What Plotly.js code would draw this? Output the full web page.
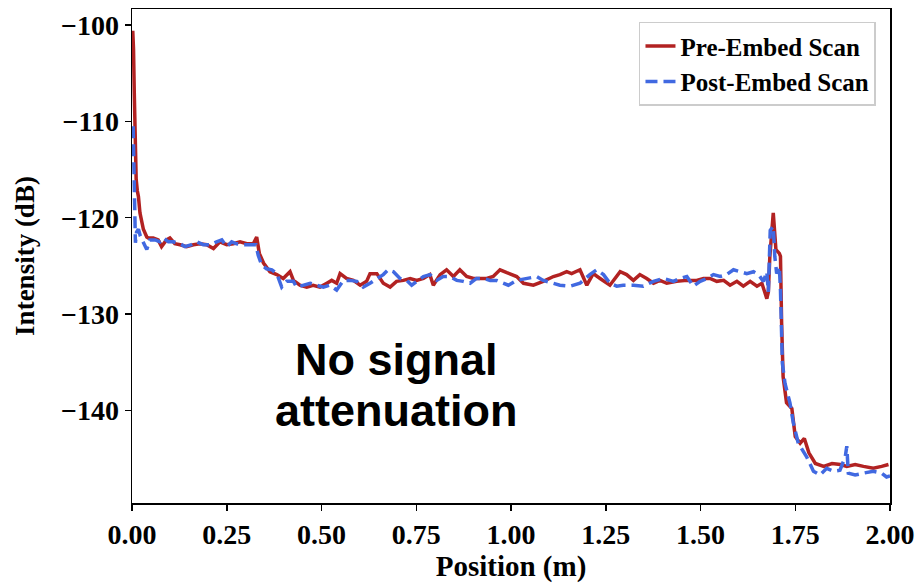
<!DOCTYPE html>
<html>
<head>
<meta charset="utf-8">
<script src="https://cdn.plot.ly/plotly-3.0.1.min.js"></script>
<style>html,body{margin:0;padding:0;background:#fff;}#chart{width:920px;height:584px;}</style>
</head>
<body>
<div id="chart"></div>
<script>
// Pre-Embed Scan (position in m, intensity in dB)
const preX = [0.002,0.004,0.006,0.008,0.011,0.014,0.017,0.021,0.030,0.039,0.043,0.056,0.069,0.078,0.091,0.100,0.113,0.127,0.144,0.162,0.179,0.197,0.215,0.232,0.250,0.267,0.285,0.303,0.320,0.329,0.336,0.347,0.364,0.382,0.399,0.417,0.426,0.443,0.461,0.478,0.496,0.514,0.527,0.540,0.549,0.566,0.584,0.602,0.619,0.628,0.646,0.663,0.681,0.698,0.716,0.734,0.751,0.769,0.786,0.795,0.813,0.830,0.848,0.865,0.883,0.901,0.918,0.936,0.953,0.971,0.989,1.015,1.033,1.059,1.085,1.112,1.129,1.147,1.160,1.182,1.200,1.217,1.235,1.261,1.288,1.305,1.323,1.340,1.358,1.376,1.393,1.411,1.437,1.464,1.490,1.508,1.525,1.543,1.561,1.578,1.596,1.613,1.631,1.649,1.662,1.675,1.679,1.683,1.692,1.699,1.708,1.711,1.714,1.718,1.727,1.741,1.750,1.763,1.774,1.786,1.803,1.825,1.847,1.869,1.886,1.908,1.930,1.956,1.978,1.996];
const preY = [-100.6,-102.5,-107.0,-111.0,-116.0,-117.2,-117.8,-119.5,-121.2,-122.0,-122.1,-122.1,-122.3,-123.0,-122.3,-122.1,-122.7,-122.8,-123.0,-122.8,-122.7,-122.8,-123.2,-122.5,-122.8,-122.7,-122.5,-122.7,-122.7,-122.0,-123.7,-124.7,-125.6,-125.9,-126.3,-125.6,-126.5,-127.0,-127.2,-127.0,-127.2,-126.8,-126.5,-126.8,-125.8,-126.3,-126.5,-127.0,-126.6,-125.8,-125.8,-126.8,-127.2,-126.6,-126.5,-126.3,-126.5,-126.3,-125.9,-127.0,-125.9,-125.4,-126.1,-125.4,-126.1,-126.3,-126.3,-126.3,-126.1,-125.4,-125.7,-126.1,-126.8,-127.0,-126.6,-126.1,-125.9,-125.6,-125.8,-125.4,-127.0,-125.8,-126.3,-127.0,-125.6,-125.9,-126.5,-125.9,-126.3,-126.8,-126.5,-126.8,-126.6,-126.5,-126.5,-126.3,-126.3,-126.6,-126.5,-127.0,-126.6,-127.1,-126.6,-127.1,-126.8,-128.4,-127.7,-124.0,-119.5,-123.3,-123.7,-124.0,-130.9,-136.5,-139.2,-139.8,-142.7,-143.4,-142.9,-144.4,-145.5,-145.8,-145.5,-145.6,-145.8,-145.6,-145.8,-146.0,-145.8,-145.6];

// Post-Embed Scan
const postX = [0.003,0.005,0.007,0.009,0.012,0.017,0.022,0.026,0.033,0.039,0.047,0.061,0.074,0.083,0.096,0.109,0.127,0.140,0.157,0.171,0.188,0.206,0.223,0.237,0.250,0.263,0.276,0.294,0.311,0.327,0.333,0.342,0.355,0.369,0.382,0.395,0.408,0.426,0.434,0.452,0.470,0.487,0.505,0.522,0.540,0.558,0.575,0.593,0.610,0.628,0.646,0.663,0.676,0.690,0.707,0.725,0.738,0.751,0.769,0.786,0.804,0.821,0.839,0.857,0.874,0.892,0.909,0.927,0.945,0.962,0.980,0.993,1.015,1.041,1.068,1.085,1.112,1.129,1.156,1.182,1.208,1.226,1.244,1.261,1.279,1.296,1.323,1.349,1.376,1.402,1.429,1.446,1.464,1.481,1.499,1.517,1.534,1.552,1.569,1.587,1.605,1.622,1.640,1.653,1.666,1.675,1.679,1.681,1.684,1.692,1.696,1.701,1.708,1.711,1.714,1.716,1.723,1.736,1.745,1.758,1.780,1.798,1.815,1.833,1.851,1.868,1.882,1.886,1.890,1.908,1.930,1.956,1.978,1.991,2.000];
const postY = [-110.5,-114.0,-118.8,-122.6,-121.5,-121.2,-121.9,-122.2,-122.8,-123.3,-122.3,-122.3,-122.5,-122.1,-122.5,-122.5,-122.7,-123.0,-122.8,-122.5,-122.8,-122.8,-122.5,-122.3,-123.0,-122.5,-122.7,-122.8,-122.8,-122.8,-123.9,-124.9,-125.3,-125.4,-125.8,-127.2,-126.6,-126.6,-127.2,-127.0,-126.8,-127.0,-127.2,-127.0,-127.5,-126.5,-126.5,-126.6,-127.2,-126.8,-126.3,-125.9,-125.4,-125.6,-126.3,-126.5,-127.0,-126.6,-126.1,-125.9,-126.5,-126.1,-126.1,-126.5,-126.6,-126.8,-126.3,-126.3,-126.5,-126.5,-126.8,-127.0,-126.5,-126.3,-126.1,-126.5,-126.8,-127.0,-127.1,-126.8,-125.9,-125.4,-125.9,-126.8,-127.1,-127.0,-127.0,-127.1,-126.6,-126.3,-126.6,-126.3,-126.1,-127.1,-126.6,-126.3,-125.9,-126.1,-125.9,-125.4,-125.6,-125.8,-125.6,-125.9,-126.6,-125.6,-127.7,-124.0,-121.3,-120.9,-124.0,-125.8,-125.1,-127.5,-131.6,-135.1,-137.2,-139.2,-141.3,-143.4,-144.8,-146.3,-146.7,-146.0,-146.3,-146.2,-144.8,-143.7,-146.5,-146.7,-146.5,-146.3,-146.5,-146.9,-146.8];

const xTicks = [0, 0.25, 0.5, 0.75, 1.0, 1.25, 1.5, 1.75, 2.0];
const yTicks = [-100, -110, -120, -130, -140];
const noteLines = ['No signal', 'attenuation'];
const noteX = 0.699;
const noteY = [-134.75, -139.95];

const serif = 'Liberation Serif, Times New Roman, serif';

const traces = [
  {x: preX, y: preY, type: 'scatter', mode: 'lines', name: 'Pre-Embed Scan',
   line: {color: '#B22222', width: 3.5}},
  {x: postX, y: postY, type: 'scatter', mode: 'lines', name: 'Post-Embed Scan',
   line: {color: '#4169E1', width: 3.5, dash: '12px,6px'}}
];

const axisCommon = {
  showline: true, mirror: true, linecolor: '#000', linewidth: 1.5,
  ticks: 'outside', ticklen: 6, tickwidth: 1.5, tickcolor: '#000',
  showgrid: false, zeroline: false,
  tickfont: {family: serif, size: 28, color: '#000', weight: 'bold'}
};

const layout = {
  width: 920, height: 584,
  margin: {l: 132, r: 30, t: 9, b: 81},
  paper_bgcolor: '#fff', plot_bgcolor: '#fff',
  showlegend: true,
  xaxis: Object.assign({}, axisCommon, {
    range: [0, 2.0], tickvals: xTicks, tickformat: '.2f',
    title: {text: 'Position (m)', font: {family: serif, size: 29, color: '#000', weight: 'bold'}, standoff: 6}
  }),
  yaxis: Object.assign({}, axisCommon, {
    range: [-149.6, -98.34], tickvals: yTicks,
    title: {text: 'Intensity (dB)', font: {family: serif, size: 27, color: '#000', weight: 'bold'}, standoff: 18}
  }),
  legend: {
    x: 0.9815, y: 0.974, xanchor: 'right', yanchor: 'top',
    bgcolor: 'rgba(255,255,255,0.8)', bordercolor: '#cccccc', borderwidth: 1.5,
    font: {family: serif, size: 25, color: '#000', weight: 'bold'},
    tracegroupgap: 0
  },
  annotations: noteLines.map((t, i) => ({
    x: noteX, y: noteY[i], xref: 'x', yref: 'y', showarrow: false,
    text: t,
    font: {family: 'Liberation Sans, Arial, sans-serif', size: 45, color: '#000', weight: 'bold'},
    align: 'center'
  }))
};

Plotly.newPlot('chart', traces, layout, {displayModeBar: false, staticPlot: true});
</script>
</body>
</html>
